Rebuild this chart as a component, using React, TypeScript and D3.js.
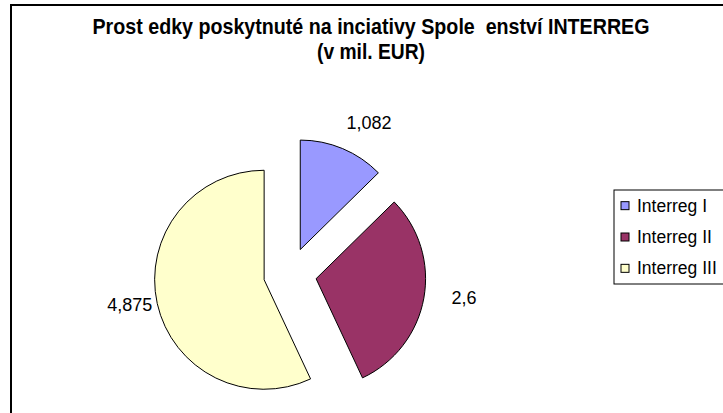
import * as d3 from "d3";
import { useEffect, useRef } from "react";

const categories = ["Interreg I", "Interreg II", "Interreg III"];
const values = [1.082, 2.6, 4.875];
const colors = ["#9999FF", "#993366", "#FFFFCC"];
const titleLines = [
  "Prost edky poskytnuté na inciativy Spole  enství INTERREG",
  "(v mil. EUR)",
];
const titleWidths = [557, 108];

const W = 723;
const H = 413;

const App: React.FC = () => {
  const svgRef = useRef<SVGSVGElement | null>(null);

  useEffect(() => {
    const svg = d3.select(svgRef.current);
    svg.selectAll("*").remove();

    // chart frame (runs off the right / bottom edge)
    svg
      .append("rect")
      .attr("x", 11)
      .attr("y", 5)
      .attr("width", 780)
      .attr("height", 460)
      .attr("fill", "#fff")
      .attr("stroke", "#000")
      .attr("stroke-width", 2);

    // title - condensed bold, squeezed to the original widths
    svg
      .append("g")
      .selectAll("text")
      .data(titleLines)
      .join("text")
      .attr("x", 371)
      .attr("y", (d, i) => 34 + i * 25)
      .attr("text-anchor", "middle")
      .attr("font-family", "'Liberation Sans', Arial, sans-serif")
      .attr("font-weight", "bold")
      .attr("font-size", 22)
      .attr("textLength", (d, i) => titleWidths[i])
      .attr("lengthAdjust", "spacingAndGlyphs")
      .style("white-space", "pre")
      .text((d) => d);

    // pie
    const cx = 290;
    const cy = 274;
    const R = 109.5;
    const explode = 26.5;
    const pie = d3.pie<number>().sort(null).value((d) => d);
    const arcs = pie(values);
    const arc = d3.arc<d3.PieArcDatum<number>>().innerRadius(0).outerRadius(R);
    const mid = (a: d3.PieArcDatum<number>) => (a.startAngle + a.endAngle) / 2;

    const g = svg.append("g").attr("transform", `translate(${cx},${cy})`);
    g.selectAll("path")
      .data(arcs)
      .join("path")
      .attr("transform", (d) => `translate(${Math.sin(mid(d)) * explode},${-Math.cos(mid(d)) * explode})`)
      .attr("d", arc)
      .attr("fill", (d, i) => colors[i])
      .attr("stroke", "#000")
      .attr("stroke-width", 1);

    // value labels, comma decimal
    const fmt = d3
      .formatLocale({ decimal: ",", thousands: " ", grouping: [3], currency: ["", ""] })
      .format("~g");
    const gap = 17;
    // excel's label ring sits a little right of / above the drawn pie
    const labelShift = { x: 11, y: -4 };
    g.selectAll("text.lbl")
      .data(arcs)
      .join("text")
      .attr("class", "lbl")
      .attr("font-family", "'Liberation Sans', Arial, sans-serif")
      .attr("font-size", 18)
      .attr("text-anchor", "middle")
      .attr("dominant-baseline", "central")
      .text((d) => fmt(d.value))
      .each(function (d) {
        const el = this as SVGTextElement;
        const w = el.getComputedTextLength();
        const h = 13;
        const dx = Math.sin(mid(d));
        const dy = -Math.cos(mid(d));
        const r = explode + R + gap;
        d3.select(el)
          .attr("x", labelShift.x + dx * r + (dx * w) / 2)
          .attr("y", labelShift.y + dy * r + (dy * h) / 2);
      });

    // legend
    const ly = d3.scaleBand().domain(categories).range([190, 284]);
    const legend = svg.append("g");
    legend
      .append("rect")
      .attr("x", 614)
      .attr("y", 190)
      .attr("width", 150)
      .attr("height", 94)
      .attr("fill", "#fff")
      .attr("stroke", "#000")
      .attr("stroke-width", 1);
    const rows = legend
      .selectAll("g.row")
      .data(categories)
      .join("g")
      .attr("class", "row")
      .attr("transform", (d) => `translate(0,${(ly(d) as number) + ly.bandwidth() / 2})`);
    rows
      .append("rect")
      .attr("x", 621)
      .attr("y", -4)
      .attr("width", 8)
      .attr("height", 8)
      .attr("fill", (d, i) => colors[i])
      .attr("stroke", "#000")
      .attr("stroke-width", 1);
    rows
      .append("text")
      .attr("x", 637)
      .attr("dominant-baseline", "central")
      .attr("font-family", "'Liberation Sans', Arial, sans-serif")
      .attr("font-size", 17.5)
      .text((d) => d);
  }, []);

  return (
    <svg
      ref={svgRef}
      width={W}
      height={H}
      style={{ position: "absolute", left: 0, top: 0, background: "#fff" }}
    />
  );
};

export default App;
